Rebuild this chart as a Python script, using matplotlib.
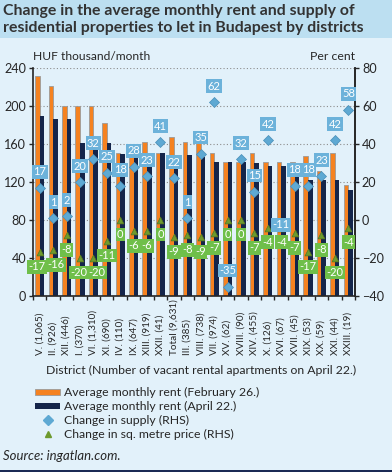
import matplotlib
matplotlib.use("Agg")
import matplotlib.pyplot as plt
from matplotlib.patches import Rectangle

plt.rcParams['font.family'] = ['Lato', 'DejaVu Sans']

districts = ["V. (1,065)", "II. (926)", "XII. (446)", "I. (370)", "VI. (1,310)",
             "XI. (690)", "IV. (110)", "IX. (647)", "XIII. (919)", "XXII. (41)",
             "Total (9,631)", "III. (385)", "VIII. (738)", "VII. (974)", "XV. (62)",
             "XVIII. (90)", "XIV. (455)", "X. (126)", "XVI. (67)", "XVII. (45)",
             "XIX. (53)", "XX. (59)", "XXI. (44)", "XXIII. (19)"]
rent_feb = [232, 221, 200, 200, 200, 182, 151, 150, 162, 151, 167, 162,
            161, 151, 141, 141, 151, 141, 141, 141, 147, 132, 151, 117]
rent_apr = [190, 186, 186, 161, 155, 161, 150, 150, 150, 151, 148, 148,
            146, 141, 141, 141, 140, 137, 137, 128, 122, 122, 122, 112]
supply_chg = [17, 1, 2, 20, 32, 25, 18, 28, 23, 41, 22, 1,
              35, 62, -35, 32, 15, 42, -11, 18, 18, 23, 42, 58]
price_chg = [-17, -16, -8, -20, -20, -11, 0, -6, -6, 0, -9, -8,
             -9, -7, 0, 0, -7, -4, -4, -7, -17, -8, -20, -4]
legend_labels = ["Average monthly rent (February 26.)", "Average monthly rent (April 22.)",
                 "Change in supply (RHS)", "Change in sq. metre price (RHS)"]

# horizontal nudges (pixels) for crowded price labels
price_nudge = {0: -2.5, 1: 2.5, 3: -1.5, 4: 3.5}

W, H = 392, 472
BG = '#e2f1fa'
TITLE_BG = '#bcdff1'
ORANGE = '#f58220'
NAVY = '#14254a'
BLUE = '#5ea9d3'
LBLUE = '#6cb2da'
GREEN = '#6fbf4a'
TRI = '#6d9a2e'
TXT = '#262626'

fig = plt.figure(figsize=(W / 100, H / 100), dpi=100, facecolor=BG)
renderer = fig.canvas.get_renderer()


def fit_size(s, target_px, **kw):
    t = fig.text(0, 0, s, fontsize=10, **kw)
    w = t.get_window_extent(renderer).width
    t.remove()
    return 10 * target_px / w


fig.patches.append(Rectangle((0, 1 - 38 / H), 1, 38 / H, transform=fig.transFigure,
                             fc=TITLE_BG, ec='none', zorder=0))
fig.patches.append(Rectangle((0, 0), 1, 2.5 / H, transform=fig.transFigure,
                             fc='#1b2a55', ec='none', zorder=0))
t1 = "Change in the average monthly rent and supply of"
t2 = "residential properties to let in Budapest by districts"
ts = fit_size(t2, 361, fontweight='bold')
fig.text(3 / W, 1 - 11 / H, t1, fontsize=ts, fontweight='bold', color='#333333',
         va='center', ha='left')
fig.text(3 / W, 1 - 28 / H, t2, fontsize=ts, fontweight='bold', color='#333333',
         va='center', ha='left')

body = fit_size("District (Number of vacant rental apartments on April 22.)", 312)
tick_fs = fit_size("240", 22)
xl_fs = fit_size("Total (9,631)", 56)
lab_fs = 8

x0, x1, yt, yb = 33, 355, 68, 296
ax = fig.add_axes([x0 / W, 1 - yb / H, (x1 - x0) / W, (yb - yt) / H])
ax.set_facecolor('none')
n = len(districts)
xs = list(range(n))
bw = 0.34
ax.bar([x - bw / 2 for x in xs], rent_feb, width=bw, color=ORANGE,
       edgecolor='#9a9a9a', linewidth=0.6, zorder=2)
ax.bar([x + bw / 2 for x in xs], rent_apr, width=bw, color=NAVY,
       edgecolor='none', zorder=2)
ax.set_xlim(-0.5, n - 0.5)
ax.set_ylim(0, 240)
ax.set_yticks(range(0, 241, 40))
ax.tick_params(axis='y', labelsize=tick_fs, colors=TXT, length=3, width=1, pad=2)
ax.set_xticks([x + 0.5 for x in range(-1, n)])
ax.set_xticklabels([])
ax.tick_params(axis='x', length=3, width=1, color=TXT, direction='out')
for yv in range(40, 241, 40):
    ax.axhline(yv, color='#8c8c8c', linestyle=(0, (1, 2)), linewidth=0.8, zorder=1)
ax.spines['top'].set_visible(False)
for s in ['left', 'bottom', 'right']:
    ax.spines[s].set_color(TXT)
    ax.spines[s].set_linewidth(1.2)

tr = ax.get_xaxis_transform()
for i, lab in enumerate(districts):
    ax.text(i, -(355 - yb) / (yb - yt), lab, transform=tr, rotation=90,
            ha='center', va='bottom', fontsize=xl_fs, color=TXT)

ax2 = ax.twinx()
ax2.set_ylim(-40, 80)
ax2.set_yticks(range(-40, 81, 20))
ax2.tick_params(axis='y', labelsize=tick_fs, colors=TXT, length=3, width=1, pad=2)
for s in ['top', 'left', 'bottom']:
    ax2.spines[s].set_visible(False)
ax2.spines['right'].set_color(TXT)
ax2.spines['right'].set_linewidth(1.2)

ax2.scatter(xs, supply_chg, marker='D', s=26, color=BLUE, edgecolor='#4a8fb8',
            linewidth=0.5, zorder=3)
ax2.scatter(xs, price_chg, marker='^', s=24, color=TRI, edgecolor='#55791f',
            linewidth=0.5, zorder=3)
for i in xs:
    ax2.annotate(str(supply_chg[i]), (i, supply_chg[i]), xytext=(0, 11.5),
                 textcoords='offset points', ha='center', va='center',
                 fontsize=lab_fs, color='white',
                 bbox=dict(boxstyle='square,pad=0.12', fc=LBLUE, ec='none'), zorder=4)
    dx = price_nudge.get(i, 0) * 0.72
    ax2.annotate(str(price_chg[i]), (i, price_chg[i]), xytext=(dx, -10.5),
                 textcoords='offset points', ha='center', va='center',
                 fontsize=lab_fs, color='white',
                 bbox=dict(boxstyle='square,pad=0.12', fc=GREEN, ec='none'), zorder=4)

fig.text(x0 / W, 1 - 57 / H, "HUF thousand/month",
         fontsize=fit_size("HUF thousand/month", 117), color=TXT, ha='left', va='center')
fig.text(x1 / W, 1 - 57 / H, "Per cent", fontsize=fit_size("Per cent", 45),
         color=TXT, ha='right', va='center')
fig.text(201 / W, 1 - 370 / H,
         "District (Number of vacant rental apartments on April 22.)",
         fontsize=body, color=TXT, ha='center', va='center')

# legend drawn manually
leg_fs = fit_size(legend_labels[1], 173)
for k, lab in enumerate(legend_labels):
    yc = 392 + 14 * k
    fig.text(64 / W, 1 - yc / H, lab, fontsize=leg_fs, color=TXT, ha='left',
             va='center')
fig.patches.append(Rectangle((35 / W, 1 - 395 / H), 25 / W, 6 / H,
                             transform=fig.transFigure, fc=ORANGE, ec='#9a9a9a',
                             lw=0.6))
fig.patches.append(Rectangle((35 / W, 1 - 409 / H), 25 / W, 6 / H,
                             transform=fig.transFigure, fc=NAVY, ec='none'))
fig.lines.append(plt.Line2D([48 / W], [1 - 420 / H], transform=fig.transFigure,
                            marker='D', ls='none', color=BLUE, markersize=5))
fig.lines.append(plt.Line2D([48 / W], [1 - 434 / H], transform=fig.transFigure,
                            marker='^', ls='none', color=TRI, markersize=5))

fig.text(3 / W, 1 - 456 / H, "Source: ingatlan.com.",
         fontsize=fit_size("Source: ingatlan.com.", 117, style='italic'),
         style='italic', color=TXT, ha='left', va='center')

fig.savefig("out.png", dpi=100, facecolor=BG)
